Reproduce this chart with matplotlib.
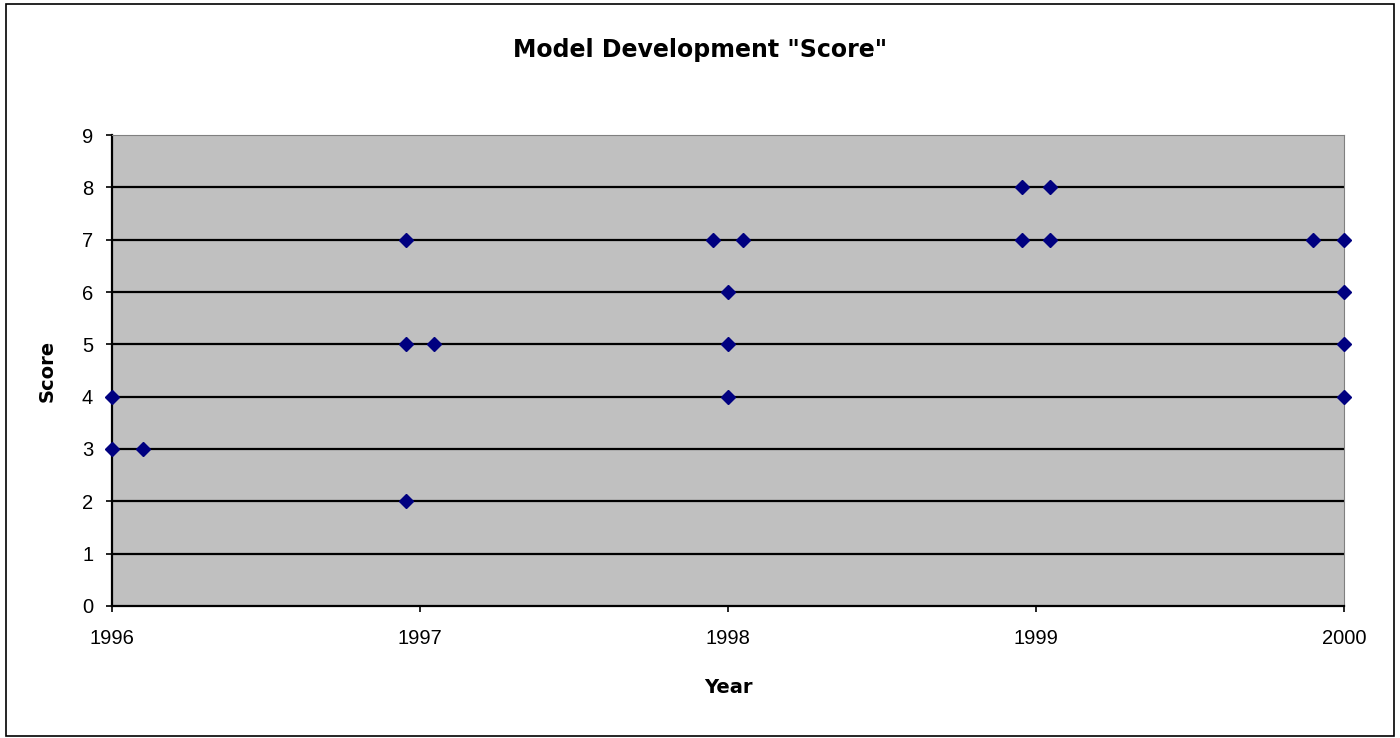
import matplotlib.pyplot as plt
from matplotlib.patches import Rectangle

plt.rcParams['font.family'] = ['Liberation Sans', 'DejaVu Sans']

# data (year as decimal, score)
years = [1996.0, 1996.0, 1996.10,
         1996.954, 1996.954, 1997.047, 1996.954,
         1997.95, 1998.05, 1998.0, 1998.0, 1998.0,
         1998.954, 1999.045, 1998.954, 1999.045,
         1999.90, 2000.0, 2000.0, 2000.0, 2000.0]
scores = [4, 3, 3,
          7, 5, 5, 2,
          7, 7, 6, 5, 4,
          8, 8, 7, 7,
          7, 7, 6, 5, 4]
year_ticks = [1996, 1997, 1998, 1999, 2000]

fig = plt.figure(figsize=(14, 7.38), dpi=100)
ax = fig.add_axes([0.08, 0.179, 0.88, 0.638])
ax.set_facecolor('#c0c0c0')

for y in range(1, 9):
    ax.axhline(y, color='black', lw=1.6, zorder=1)

ax.plot(years, scores, linestyle='none', marker='D', ms=7.5,
        color='#000080', clip_on=False, zorder=3)

ax.set_xlim(1996, 2000)
ax.set_ylim(0, 9)
ax.set_xticks(year_ticks)
ax.set_yticks(range(0, 10))
ax.tick_params(direction='out', length=4.5, width=1.2, labelsize=14.5)
ax.tick_params(axis='x', pad=12)
ax.tick_params(axis='y', pad=9)

ax.spines['left'].set_color('black')
ax.spines['bottom'].set_color('black')
ax.spines['left'].set_linewidth(1.6)
ax.spines['bottom'].set_linewidth(1.6)
ax.spines['top'].set_color('#808080')
ax.spines['right'].set_color('#808080')

fig.text(0.5, 0.932, 'Model Development "Score"', ha='center', va='center',
         fontsize=17, fontweight='bold', family='DejaVu Sans')
ax.set_xlabel('Year', fontsize=14, fontweight='bold', family='DejaVu Sans')
ax.set_ylabel('Score', fontsize=14, fontweight='bold', family='DejaVu Sans')
ax.xaxis.label.set_verticalalignment('center')
ax.yaxis.label.set_verticalalignment('center')
ax.xaxis.set_label_coords(0.5, -0.174)
ax.yaxis.set_label_coords(-0.0528, 0.5)

fig.patches.append(Rectangle((0.004, 0.003), 0.992, 0.992, transform=fig.transFigure,
                             fill=False, edgecolor='black', lw=1.2))

fig.savefig('out.png', dpi=100)
